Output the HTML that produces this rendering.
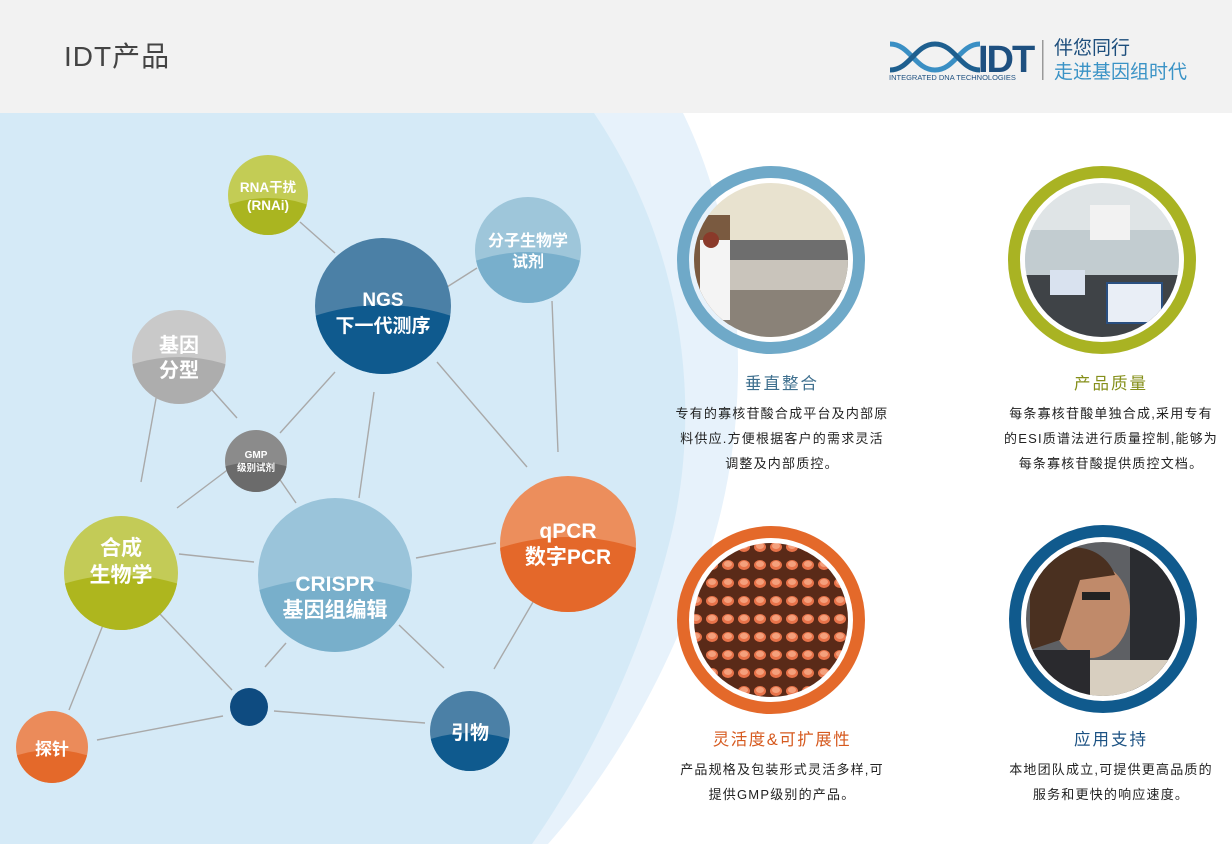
<!DOCTYPE html>
<html><head><meta charset="utf-8"><style>
html,body{margin:0;padding:0;width:1232px;height:844px;overflow:hidden;background:#fff;font-family:"Liberation Sans","Noto Sans CJK SC",sans-serif}
svg{display:block}
</style></head><body>
<svg width="1232" height="844" viewBox="0 0 1232 844" xmlns="http://www.w3.org/2000/svg" font-family="'Liberation Sans','Noto Sans CJK SC',sans-serif">
<defs>
<clipPath id="p1"><circle cx="771" cy="260" r="77"/></clipPath>
<clipPath id="p2"><circle cx="1102" cy="260" r="77"/></clipPath>
<clipPath id="p3"><circle cx="771" cy="620" r="77"/></clipPath>
<clipPath id="p4"><circle cx="1103" cy="619" r="77"/></clipPath>
<pattern id="tubes" x="0" y="0" width="16" height="18" patternUnits="userSpaceOnUse">
<rect width="16" height="18" fill="#5a2a18"/><ellipse cx="8" cy="7" rx="6" ry="5" fill="#e8734a"/><ellipse cx="8" cy="6" rx="4" ry="3" fill="#f4a07c"/>
</pattern>
</defs>
<rect x="0" y="0" width="1232" height="113" fill="#f2f2f2"/>
<text x="64" y="66" font-size="28" fill="#444" letter-spacing="1">IDT产品</text>
<!-- logo -->
<g fill="none" stroke-width="5">
<path d="M890 44 C910 44 915 70 935 70 C955 70 960 44 980 44" stroke="#3a8fc4"/>
<path d="M890 70 C910 70 915 44 935 44 C955 44 960 70 980 70" stroke="#1e5f8f"/>
</g>
<text x="978" y="72" font-size="38" font-weight="bold" fill="#1e5080" letter-spacing="-2">IDT</text>
<text x="889" y="80" font-size="7.5" fill="#1e5080">INTEGRATED DNA TECHNOLOGIES</text>
<rect x="1042" y="40" width="1.5" height="40" fill="#999"/>
<text x="1054" y="54" font-size="19" fill="#1d4e7c">伴您同行</text>
<text x="1054" y="78" font-size="19" fill="#3a93c6">走进基因组时代</text>

<path d="M0 113 L683 113 C745 240 760 420 700 580 C660 690 605 780 548 844 L0 844 Z" fill="#e7f2fb"/>
<path d="M0 113 L594 113 C680 240 705 400 670 540 C640 660 590 760 532 844 L0 844 Z" fill="#d5eaf7"/>

<!-- edges -->
<g stroke="#a9a9a9" stroke-width="1.4">
<line x1="300" y1="222" x2="335" y2="253"/>
<line x1="447" y1="287" x2="477" y2="268"/>
<line x1="335" y1="372" x2="280" y2="433"/>
<line x1="374" y1="392" x2="359" y2="498"/>
<line x1="437" y1="362" x2="527" y2="467"/>
<line x1="552" y1="301" x2="558" y2="452"/>
<line x1="212" y1="390" x2="237" y2="418"/>
<line x1="157" y1="393" x2="141" y2="482"/>
<line x1="230" y1="468" x2="177" y2="508"/>
<line x1="276" y1="474" x2="296" y2="503"/>
<line x1="179" y1="554" x2="254" y2="562"/>
<line x1="416" y1="558" x2="496" y2="543"/>
<line x1="540" y1="590" x2="494" y2="669"/>
<line x1="399" y1="625" x2="444" y2="668"/>
<line x1="160" y1="614" x2="232" y2="690"/>
<line x1="286" y1="643" x2="265" y2="667"/>
<line x1="274" y1="711" x2="425" y2="723"/>
<line x1="105" y1="620" x2="69" y2="710"/>
<line x1="97" y1="740" x2="223" y2="716"/>
</g>

<g>
<clipPath id="c1"><circle cx="268" cy="195" r="40"/></clipPath>
<g clip-path="url(#c1)"><rect x="220" y="150" width="100" height="100" fill="#c3cc55"/><ellipse cx="268" cy="265" rx="90" ry="67" fill="#aab520"/></g>
<clipPath id="c2"><circle cx="528" cy="250" r="53"/></clipPath>
<g clip-path="url(#c2)"><rect x="470" y="190" width="120" height="120" fill="#9ec6da"/><ellipse cx="528" cy="340" rx="120" ry="88" fill="#78afcc"/></g>
<clipPath id="c3"><circle cx="383" cy="306" r="68"/></clipPath>
<g clip-path="url(#c3)"><rect x="310" y="230" width="150" height="150" fill="#4b80a6"/><ellipse cx="383" cy="420" rx="160" ry="115" fill="#0f5a8e"/></g>
<clipPath id="c4"><circle cx="179" cy="357" r="47"/></clipPath>
<g clip-path="url(#c4)"><rect x="130" y="305" width="100" height="100" fill="#c9c9c9"/><ellipse cx="179" cy="435" rx="110" ry="78" fill="#adadad"/></g>
<clipPath id="c5"><circle cx="256" cy="461" r="31"/></clipPath>
<g clip-path="url(#c5)"><rect x="220" y="425" width="75" height="75" fill="#8b8b8b"/><ellipse cx="256" cy="512" rx="75" ry="50" fill="#6b6b6b"/></g>
<clipPath id="c6"><circle cx="121" cy="573" r="57"/></clipPath>
<g clip-path="url(#c6)"><rect x="60" y="510" width="125" height="125" fill="#c3cb57"/><ellipse cx="121" cy="670" rx="135" ry="95" fill="#aeb61e"/></g>
<clipPath id="c7"><circle cx="335" cy="575" r="77"/></clipPath>
<g clip-path="url(#c7)"><rect x="255" y="495" width="160" height="160" fill="#9ac4da"/><ellipse cx="335" cy="708" rx="180" ry="130" fill="#78afcb"/></g>
<clipPath id="c8"><circle cx="568" cy="544" r="68"/></clipPath>
<g clip-path="url(#c8)"><rect x="495" y="470" width="150" height="150" fill="#ec8e5c"/><ellipse cx="568" cy="652" rx="160" ry="115" fill="#e4682a"/></g>
<circle cx="249" cy="707" r="19" fill="#0e4b80"/>
<clipPath id="c9"><circle cx="470" cy="731" r="40"/></clipPath>
<g clip-path="url(#c9)"><rect x="425" y="685" width="90" height="90" fill="#4b80a6"/><ellipse cx="470" cy="800" rx="95" ry="67" fill="#0f5a8e"/></g>
<clipPath id="c10"><circle cx="52" cy="747" r="36"/></clipPath>
<g clip-path="url(#c10)"><rect x="10" y="705" width="85" height="85" fill="#eb8b5a"/><ellipse cx="52" cy="810" rx="85" ry="60" fill="#e4692a"/></g>
</g>

<g fill="#fff" font-weight="bold" text-anchor="middle">
<text x="268" y="192" font-size="13.5">RNA干扰</text>
<text x="268" y="210" font-size="13.5">(RNAi)</text>
<text x="528" y="246" font-size="16">分子生物学</text>
<text x="528" y="267" font-size="16">试剂</text>
<text x="383" y="306" font-size="19">NGS</text>
<text x="383" y="332" font-size="19">下一代测序</text>
<text x="179" y="352" font-size="20">基因</text>
<text x="179" y="377" font-size="20">分型</text>
<text x="256" y="458" font-size="10">GMP</text>
<text x="256" y="471" font-size="9.5">级别试剂</text>
<text x="121" y="555" font-size="21">合成</text>
<text x="121" y="582" font-size="21">生物学</text>
<text x="335" y="591" font-size="21">CRISPR</text>
<text x="335" y="617" font-size="21">基因组编辑</text>
<text x="568" y="538" font-size="21">qPCR</text>
<text x="568" y="564" font-size="21">数字PCR</text>
<text x="470" y="739" font-size="19">引物</text>
<text x="52" y="755" font-size="17">探针</text>
</g>

<circle cx="771" cy="260" r="88" fill="none" stroke="#6fa9c8" stroke-width="12"/>
<circle cx="1102" cy="260" r="88" fill="none" stroke="#a9b323" stroke-width="12"/>
<circle cx="771" cy="620" r="88" fill="none" stroke="#e4692a" stroke-width="12"/>
<circle cx="1103" cy="619" r="88" fill="none" stroke="#105a8d" stroke-width="12"/>

<g clip-path="url(#p1)">
<rect x="690" y="180" width="165" height="160" fill="#e8e2cf"/>
<rect x="690" y="215" width="40" height="110" fill="#7a5a40"/>
<rect x="720" y="240" width="140" height="50" fill="#6e6e6e"/>
<rect x="720" y="260" width="140" height="30" fill="#c9c4bb"/>
<rect x="720" y="290" width="140" height="50" fill="#8a8278"/>
<rect x="700" y="240" width="30" height="80" fill="#f4f4f4"/>
<circle cx="711" cy="240" r="8" fill="#8a3a2a"/>
</g>
<g clip-path="url(#p2)">
<rect x="1020" y="180" width="165" height="160" fill="#dfe4e6"/>
<rect x="1020" y="230" width="165" height="45" fill="#c2ccd0"/>
<rect x="1020" y="275" width="165" height="70" fill="#3f4347"/>
<rect x="1050" y="270" width="35" height="25" fill="#d9e2ef"/>
<rect x="1107" y="283" width="55" height="40" fill="#e9eef6" stroke="#2a4f80" stroke-width="2"/>
<rect x="1090" y="205" width="40" height="35" fill="#f2f2f2"/>
</g>
<g clip-path="url(#p3)">
<rect x="690" y="540" width="165" height="165" fill="url(#tubes)"/>
</g>
<g clip-path="url(#p4)">
<rect x="1020" y="540" width="170" height="160" fill="#5e6064"/>
<rect x="1130" y="540" width="60" height="160" fill="#2a2c30"/>
<rect x="1080" y="660" width="90" height="40" fill="#d8cfc0"/>
<ellipse cx="1090" cy="610" rx="40" ry="48" fill="#c08a6a"/>
<path d="M1030 580 C1040 540 1100 535 1115 575 L1080 580 L1060 640 L1030 650 Z" fill="#4a3020"/>
<rect x="1020" y="650" width="70" height="50" fill="#2a2a2e"/>
<rect x="1082" y="592" width="28" height="8" fill="#222"/>
</g>

<g text-anchor="middle">
<text x="782" y="389" font-size="16.5" fill="#3e6f8e" letter-spacing="2">垂直整合</text>
<text x="1111" y="389" font-size="16.5" fill="#858f1a" letter-spacing="2">产品质量</text>
<text x="782" y="745" font-size="16.5" fill="#d65a1f" letter-spacing="1.5">灵活度&amp;可扩展性</text>
<text x="1111" y="745" font-size="16.5" fill="#1c5283" letter-spacing="2">应用支持</text>
<g font-size="13" fill="#222" letter-spacing="1.2">
<text x="782" y="418">专有的寡核苷酸合成平台及内部原</text>
<text x="782" y="443">料供应.方便根据客户的需求灵活</text>
<text x="782" y="468">调整及内部质控。</text>
<text x="1111" y="418">每条寡核苷酸单独合成,采用专有</text>
<text x="1111" y="443">的ESI质谱法进行质量控制,能够为</text>
<text x="1111" y="468">每条寡核苷酸提供质控文档。</text>
<text x="782" y="774">产品规格及包装形式灵活多样,可</text>
<text x="782" y="799">提供GMP级别的产品。</text>
<text x="1111" y="774">本地团队成立,可提供更高品质的</text>
<text x="1111" y="799">服务和更快的响应速度。</text>
</g>
</g>
</svg>
</body></html>
